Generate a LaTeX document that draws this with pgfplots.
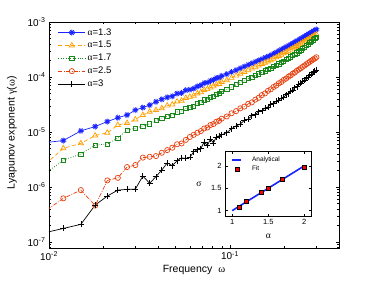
\documentclass[border=0pt]{standalone}
\usepackage{fontspec}
\setmainfont{Liberation Sans}
\newfontfamily\greek{Liberation Serif}
\usepackage{pgfplots}
\pgfplotsset{compat=1.18}
\usepackage{pgfplotstable}
\usetikzlibrary{plotmarks}

\definecolor{cblue}{RGB}{25,35,255}
\definecolor{corange}{RGB}{255,158,0}
\definecolor{cgreen}{RGB}{25,135,25}
\definecolor{cred}{RGB}{232,62,12}

\pgfplotstableread{
w b o g r k
0.009 6.3e-6 2.2e-6 1.52e-6 3.2e-7 1.42e-7
0.012 7.0e-6 5.06e-6 3.1e-6 6.24e-7 1.77e-7
0.015 1.05e-5 6.24e-6 3.98e-6 8.8e-7 2.10e-7
0.018 1.26e-5 8.63e-6 5.8e-6 4.6e-7 4.71e-7
0.021 1.55e-5 9.7e-6 6.05e-6 1.32e-6 6.86e-7
0.024 1.82e-5 1.34e-5 7.8e-6 1.47e-6 8.8e-7
0.027 2.04e-5 1.46e-5 1.09e-5 2.31e-6 9.07e-7
0.030 2.51e-5 1.69e-5 1.17e-5 2.51e-6 9.2e-7
0.033 2.79e-5 2.04e-5 1.29e-5 3.43e-6 1.58e-6
0.036 3.09e-5 2.34e-5 1.41e-5 3.55e-6 1.17e-6
0.039 3.55e-5 2.51e-5 1.62e-5 3.66e-6 1.55e-6
0.042 3.94e-5 2.70e-5 1.80e-5 4.2e-6 2.04e-6
0.045 4.27e-5 3.02e-5 1.95e-5 4.7e-6 2.75e-6
0.048 4.47e-5 3.16e-5 2.04e-5 5.2e-6 2.45e-6
0.051 5.01e-5 3.59e-5 2.32e-5 6.0e-6 3.02e-6
0.054 5.13e-5 3.72e-5 2.40e-5 6.2e-6 3.39e-6
0.057 5.75e-5 4.17e-5 2.69e-5 7.2e-6 3.31e-6
0.060 5.89e-5 4.37e-5 2.82e-5 8.13e-6 3.47e-6
0.063 6.17e-5 4.57e-5 2.95e-5 8.9e-6 4.37e-6
0.066 6.76e-5 5.01e-5 3.27e-5 9.7e-6 4.79e-6
0.069 7.08e-5 5.31e-5 3.47e-5 1.04e-5 5.01e-6
0.072 7.76e-5 5.82e-5 3.85e-5 1.16e-5 6.61e-6
0.075 7.94e-5 6.03e-5 3.98e-5 1.21e-5 5.75e-6
0.078 8.51e-5 6.46e-5 4.27e-5 1.34e-5 7.41e-6
0.081 8.91e-5 6.76e-5 4.52e-5 1.40e-5 6.31e-6
0.084 9.55e-5 7.33e-5 4.90e-5 1.54e-5 8.13e-6
0.087 9.77e-5 7.50e-5 5.01e-5 1.60e-5 8.51e-6
0.090 1.047e-4 8.13e-5 5.43e-5 1.75e-5 8.91e-6
0.096 1.13e-4 8.77e-5 5.96e-5 1.92e-5 9.77e-6
0.102 1.23e-4 9.66e-5 6.61e-5 2.19e-5 1.15e-5
0.108 1.33e-4 1.06e-4 7.24e-5 2.40e-5 1.29e-5
0.114 1.44e-4 1.14e-4 7.94e-5 2.70e-5 1.40e-5
0.120 1.55e-4 1.23e-4 8.61e-5 2.90e-5 1.63e-5
0.126 1.66e-4 1.33e-4 9.31e-5 3.25e-5 1.72e-5
0.132 1.77e-4 1.42e-4 1.00e-4 3.46e-5 1.97e-5
0.138 1.88e-4 1.51e-4 1.07e-4 3.88e-5 2.07e-5
0.144 2.00e-4 1.62e-4 1.14e-4 4.19e-5 2.34e-5
0.150 2.11e-4 1.72e-4 1.22e-4 4.70e-5 2.45e-5
0.156 2.24e-4 1.82e-4 1.29e-4 5.03e-5 2.74e-5
0.162 2.36e-4 1.92e-4 1.37e-4 5.61e-5 2.86e-5
0.168 2.48e-4 2.01e-4 1.44e-4 5.97e-5 3.18e-5
0.174 2.64e-4 2.14e-4 1.54e-4 6.60e-5 3.30e-5
0.180 2.80e-4 2.28e-4 1.64e-4 7.00e-5 3.65e-5
0.186 2.97e-4 2.42e-4 1.74e-4 7.70e-5 3.78e-5
0.192 3.14e-4 2.55e-4 1.85e-4 8.12e-5 4.15e-5
0.198 3.32e-4 2.70e-4 1.95e-4 8.88e-5 4.28e-5
0.204 3.50e-4 2.84e-4 2.07e-4 9.35e-5 4.75e-5
0.210 3.68e-4 2.99e-4 2.19e-4 1.01e-4 5.00e-5
0.216 3.88e-4 3.15e-4 2.32e-4 1.07e-4 5.56e-5
0.222 4.08e-4 3.32e-4 2.45e-4 1.15e-4 5.82e-5
0.228 4.30e-4 3.49e-4 2.60e-4 1.21e-4 6.44e-5
0.234 4.51e-4 3.66e-4 2.75e-4 1.30e-4 6.72e-5
0.240 4.73e-4 3.85e-4 2.92e-4 1.37e-4 7.40e-5
0.246 4.95e-4 4.03e-4 3.09e-4 1.45e-4 7.75e-5
0.252 5.19e-4 4.22e-4 3.31e-4 1.53e-4 8.45e-5
0.258 5.43e-4 4.42e-4 3.51e-4 1.62e-4 8.85e-5
0.264 5.69e-4 4.62e-4 3.72e-4 1.71e-4 9.60e-5
0.270 5.96e-4 4.84e-4 3.98e-4 1.80e-4 1.00e-4
0.276 6.22e-4 5.06e-4 4.22e-4 1.89e-4 1.08e-4
0.282 6.49e-4 5.27e-4 4.47e-4 1.99e-4 1.13e-4
0.288 6.78e-4 5.51e-4 4.73e-4 2.08e-4 1.21e-4
0.294 7.06e-4 5.74e-4 5.01e-4 2.18e-4 1.28e-4
0.300 7.35e-4 5.97e-4 5.25e-4 2.29e-4 1.35e-4
}\datatab

\begin{document}
\begin{tikzpicture}
\path[use as bounding box] (-49pt,-33pt) rectangle (325pt,248pt);
\begin{axis}[
  at={(0pt,0pt)}, anchor=south west,
  scale only axis, width=290pt, height=226pt,
  xmode=log, ymode=log,
  xmin=0.01, xmax=0.4, ymin=7.8e-8, ymax=1e-3,
  log number format basis/.code 2 args={#1\textsuperscript{\pgfmathprintnumber[assume math mode=true]{#2}}},
  tick align=inside,
  axis line style={line width=0.5pt},
  tick style={line width=0.4pt, black},
  major tick length=3.5pt, minor tick length=2pt,
  ticklabel style={font=\fontsize{10}{12}\selectfont},
  xlabel={Frequency\ \ {\greek ω}},
  ylabel={Lyapunov exponent {\greek γ}({\greek ω})},
  label style={font=\fontsize{10.5}{12}\selectfont},
  xlabel style={at={(axis description cs:0.5,-0.097)}, anchor=center},
  ylabel style={at={(axis description cs:-0.128,0.51)}, anchor=center},
  legend style={draw=none, fill=none, at={(0.02,0.99)}, anchor=north west,
     font=\fontsize{9.5}{11}\selectfont, row sep=0.8pt},
  legend cell align=left,
  legend image code/.code={\draw[mark repeat=2,mark phase=2,#1] plot coordinates {(0pt,0pt) (13.5pt,0pt) (27pt,0pt)};},
]
\addplot[cblue, line width=0.7pt, mark=10-pointed star, mark size=3pt, mark options={fill=cblue}] table[x=w,y=b]{\datatab};
\addlegendentry{{\greek α}=1.3}
\addplot[corange, line width=0.7pt, dash pattern=on 4pt off 2.5pt, mark=triangle, mark size=3pt, mark options={solid, line width=0.7pt}] table[x=w,y=o]{\datatab};
\addlegendentry{{\greek α}=1.5}
\addplot[cgreen, line width=0.7pt, dash pattern=on 0.8pt off 1.6pt, mark=square, mark size=2.1pt, mark options={solid, line width=0.7pt}] table[x=w,y=g]{\datatab};
\addlegendentry{{\greek α}=1.7}
\addplot[cred, line width=0.7pt, dash pattern=on 4pt off 1.5pt on 0.8pt off 1.5pt, mark=o, mark size=2.6pt, mark options={solid, line width=0.7pt}] table[x=w,y=r]{\datatab};
\addlegendentry{{\greek α}=2.5}
\addplot[black, line width=0.7pt, mark=+, mark size=3pt, mark options={line width=0.7pt}] table[x=w,y=k]{\datatab};
\addlegendentry{{\greek α}=3}
\end{axis}

\begin{axis}[
  at={(176pt,32pt)}, anchor=south west,
  scale only axis, width=86.5pt, height=64.5pt,
  xmin=0.9, xmax=2.1, ymin=0.88, ymax=2.32,
  xtick={1,1.5,2}, ytick={1,1.5,2},
  tick align=inside,
  axis background/.style={fill=white},
  axis line style={line width=0.5pt},
  tick style={line width=0.4pt, black},
  major tick length=2.5pt,
  /pgf/number format/assume math mode=true,
  ticklabel style={font=\fontsize{7.5}{9}\selectfont},
  xlabel={{\greek α}}, ylabel={{\greek σ}},
  label style={font=\fontsize{9.5}{11}\selectfont},
  xlabel style={at={(axis description cs:0.5,-0.32)}, anchor=center},
  ylabel style={at={(axis description cs:-0.30,0.5)}, anchor=center, rotate=-90},
  legend style={draw=none, fill=none, at={(0.04,0.98)}, anchor=north west,
     font=\fontsize{6.5}{7.5}\selectfont, row sep=-1pt},
  legend cell align=left,
  legend image code/.code={\draw[#1] plot coordinates {(4.5pt,0pt)}; \path (0pt,0pt) (17pt,0pt);},
]
\addplot[cblue, line width=1.6pt, legend image code/.code={\draw[cblue, line width=1.2pt] (0pt,0pt) -- (9pt,0pt); \path (17pt,0pt);}] coordinates {(1,1) (2,2)};
\addlegendentry{Analytical}
\addplot[only marks, mark=square*, mark size=2pt, mark options={fill=red, draw=black, line width=0.4pt}] coordinates {(1.1,1.08) (1.2,1.2) (1.4,1.42) (1.5,1.49) (1.7,1.71) (2.0,1.96)};
\addlegendentry{Fit}
\end{axis}
\end{tikzpicture}
\end{document}
